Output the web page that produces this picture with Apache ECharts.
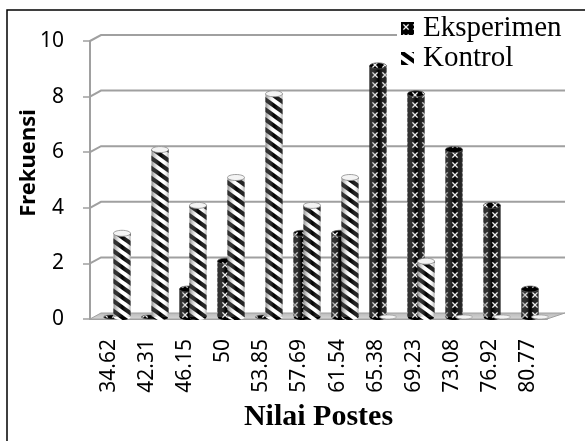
<!DOCTYPE html>
<html>
<head>
<meta charset="utf-8">
<script src="https://cdn.jsdelivr.net/npm/echarts@6/dist/echarts.min.js"></script>
<style>
  html, body { margin: 0; padding: 0; background: #fff; }
  #chart { width: 585px; height: 441px; }
</style>
</head>
<body>
<div id="chart"></div>
<script>
// Frequency of post-test scores, experiment vs control group
const categories = ['34.62', '42.31', '46.15', '50', '53.85', '57.69', '61.54', '65.38', '69.23', '73.08', '76.92', '80.77'];
const eksperimen = [0, 0, 1, 2, 0, 3, 3, 9, 8, 6, 4, 1];
const kontrol = [3, 6, 4, 5, 8, 4, 5, 0, 2, 0, 0, 0];
const yTicks = [0, 2, 4, 6, 8, 10];

// --- fill patterns for the cylinders ---
function makeStripePattern() {
  const W = 14, H = 10;
  const c = document.createElement('canvas');
  c.width = W; c.height = H;
  const g = c.getContext('2d');
  g.fillStyle = '#fff';
  g.fillRect(0, 0, W, H);
  g.strokeStyle = '#000';
  g.lineWidth = 4.2;
  for (let k = -1; k <= 1; k++) {
    g.beginPath();
    g.moveTo(-2, k * H - 2 * H / W);
    g.lineTo(W + 2, k * H + H + 2 * H / W);
    g.stroke();
  }
  return { image: c, repeat: 'repeat' };
}
function makeLatticePattern() {
  const T = 10;
  const c = document.createElement('canvas');
  c.width = T; c.height = T;
  const g = c.getContext('2d');
  g.fillStyle = '#000';
  g.fillRect(0, 0, T, T);
  g.strokeStyle = '#f0f0f0';
  g.lineWidth = 1.3;
  g.beginPath();
  g.moveTo(0, 0); g.lineTo(T, T);
  g.moveTo(T, 0); g.lineTo(0, T);
  g.stroke();
  g.fillStyle = '#000';
  [[0, 0], [T, 0], [0, T], [T, T]].forEach(function (p) {
    g.beginPath();
    g.arc(p[0], p[1], 3.2, 0, Math.PI * 2);
    g.fill();
  });
  return { image: c, repeat: 'repeat' };
}
const stripeFill = makeStripePattern();
const latticeFill = makeLatticePattern();

const shade = {
  type: 'linear', x: 0, y: 0, x2: 1, y2: 0,
  colorStops: [
    { offset: 0, color: 'rgba(70,70,70,0.6)' },
    { offset: 0.25, color: 'rgba(150,150,150,0.3)' },
    { offset: 0.5, color: 'rgba(255,255,255,0)' },
    { offset: 0.72, color: 'rgba(255,255,255,0.12)' },
    { offset: 0.9, color: 'rgba(140,140,140,0.25)' },
    { offset: 1, color: 'rgba(80,80,80,0.5)' }
  ]
};

function cylinder(offset, bodyFill, capFill, capStroke) {
  return function (params, api) {
    const idx = api.value(0);
    const v = api.value(1);
    const base = api.coord([idx, 0]);
    const top = api.coord([idx, v]);
    const w = 17, ry = 3;
    const cx = base[0] + offset;
    const x = cx - w / 2;
    if (v === 0) {
      return {
        type: 'ellipse',
        shape: { cx: cx, cy: base[1], rx: w / 2, ry: 2 },
        style: { fill: capFill, stroke: capStroke, lineWidth: 0.6 }
      };
    }
    const body = { x: x, y: top[1], width: w, height: base[1] - top[1] };
    return {
      type: 'group',
      children: [
        { type: 'ellipse', shape: { cx: cx, cy: base[1], rx: w / 2, ry: ry }, style: { fill: bodyFill } },
        { type: 'rect', shape: body, style: { fill: bodyFill } },
        { type: 'rect', shape: body, style: { fill: shade } },
        { type: 'ellipse', shape: { cx: cx, cy: top[1], rx: w / 2, ry: ry },
          style: { fill: capFill, stroke: capStroke, lineWidth: 0.8 } }
      ]
    };
  };
}

// back-wall gridlines with the short receding segment at the front axis
function wallLine(params, api) {
  const v = api.value(1);
  const y = api.coord([0, v])[1];
  const cs = params.coordSys;
  const x0 = cs.x, x1 = cs.x + cs.width;
  if (v === 0) {
    return {
      type: 'polygon',
      shape: { points: [[x0, y], [x1, y], [x1 + 18, y - 6], [x0 + 11, y - 6]] },
      style: {
        fill: { type: 'linear', x: 0, y: 0, x2: 0, y2: 1,
          colorStops: [{ offset: 0, color: '#b8b8b8' }, { offset: 1, color: '#d8d8d8' }] },
        stroke: '#a0a0a0', lineWidth: 1
      }
    };
  }
  return {
    type: 'polyline',
    shape: { points: [[x0, y], [x0 + 11, y - 6], [x1 + 18, y - 6]] },
    style: { stroke: '#a0a0a0', lineWidth: 2, fill: null }
  };
}

const chart = echarts.init(document.getElementById('chart'), null, { renderer: 'canvas' });

const labelFont = 'Noto Sans';

chart.setOption({
  animation: false,
  backgroundColor: '#fff',
  grid: [
    { left: 90, right: 38, top: 41, bottom: 122 },
    { left: 98, right: 31, top: 38, bottom: 124 }
  ],
  xAxis: [
    {
      gridIndex: 0, type: 'category', data: categories,
      axisLine: { lineStyle: { color: '#a0a0a0', width: 2 } },
      axisTick: { length: 7, lineStyle: { color: '#a0a0a0', width: 1.5 } },
      axisLabel: { rotate: 90, interval: 0, margin: 20, color: '#000',
        fontFamily: labelFont, fontSize: 21 },
      name: 'Nilai Postes', nameLocation: 'middle', nameGap: 83,
      nameTextStyle: { fontFamily: 'Liberation Serif', fontWeight: 'bold', fontSize: 30, color: '#000' }
    },
    { gridIndex: 1, type: 'category', data: categories, show: false }
  ],
  yAxis: [
    {
      gridIndex: 0, type: 'value', min: 0, max: 10, interval: 2,
      axisLine: { show: true, lineStyle: { color: '#a0a0a0', width: 2 } },
      axisTick: { show: true, length: 7, lineStyle: { color: '#a0a0a0', width: 1.5 } },
      splitLine: { show: false },
      axisLabel: { margin: 26, color: '#000', fontFamily: labelFont, fontSize: 21 }
    },
    { gridIndex: 1, type: 'value', min: 0, max: 10, interval: 2, show: false, splitLine: { show: false } }
  ],
  legend: {
    orient: 'vertical', left: 399, top: 12,
    itemWidth: 13, itemHeight: 13, itemGap: 1,
    padding: [2, 2, 2, 2], z: 20,
    textStyle: { fontFamily: 'Liberation Serif', fontSize: 29, color: '#000', padding: [0, 0, 0, 4] },
    data: [
      { name: 'Eksperimen', icon: 'rect', itemStyle: { color: latticeFill } },
      { name: 'Kontrol', icon: 'rect', itemStyle: { color: stripeFill } }
    ]
  },
  graphic: [
    { type: 'rect', z: 0, shape: { x: 7, y: 10, width: 600, height: 460 },
      style: { fill: null, stroke: '#000', lineWidth: 1.5 } },
    // white backing behind the legend entries
    { type: 'rect', z: 10, shape: { x: 397, y: 14, width: 185, height: 64 },
      style: { fill: '#fff', stroke: null } },
    { type: 'text', x: 29, y: 163, rotation: Math.PI / 2, z: 10,
      style: { text: 'Frekuensi', fontFamily: labelFont, fontWeight: 'bold', fontSize: 22,
        fill: '#000', textAlign: 'center', textVerticalAlign: 'middle' } }
  ],
  series: [
    {
      name: 'wall', type: 'custom', xAxisIndex: 0, yAxisIndex: 0, z: 1, silent: true,
      clip: false, renderItem: wallLine,
      data: yTicks.map(function (v) { return [0, v]; })
    },
    {
      name: 'Eksperimen', type: 'custom', xAxisIndex: 1, yAxisIndex: 1, z: 3,
      clip: false, itemStyle: { color: latticeFill },
      renderItem: cylinder(-5, latticeFill, latticeFill, '#555'),
      data: eksperimen.map(function (v, i) { return [i, v]; })
    },
    {
      name: 'Kontrol', type: 'custom', xAxisIndex: 1, yAxisIndex: 1, z: 4,
      clip: false, itemStyle: { color: stripeFill },
      renderItem: cylinder(5, stripeFill, '#f4f4f4', '#8a8a8a'),
      data: kontrol.map(function (v, i) { return [i, v]; })
    }
  ]
});
</script>
</body>
</html>
